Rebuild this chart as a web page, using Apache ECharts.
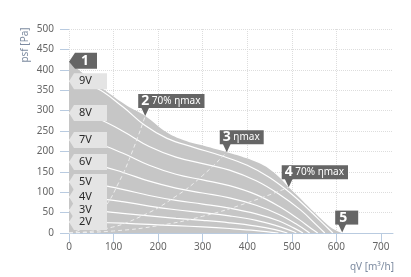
<!DOCTYPE html>
<html lang="de" style="height: 100%;margin: 0;">
<head>
    <meta charset="UTF-8">
    <title>chart</title>
</head>
<body style="height: 100%;margin: 0;background:#fff;">
<div id="chart" style="width: 411px;height: 277px;margin: 0;"></div>
<script src="https://cdn.jsdelivr.net/npm/echarts@6/dist/echarts.min.js"></script>
<script>
    // axis ticks
    var xTicks = [0, 100, 200, 300, 400, 500, 600, 700];
    var yTicks = [0, 50, 100, 150, 200, 250, 300, 350, 400, 450, 500];

    // max curve (grey area)
    var envelope = [[0, 420], [40, 384], [85, 346], [130, 312], [171, 287], [219, 247], [256, 228], [294, 216],
        [354, 198], [399, 183], [436, 166], [459, 149], [478, 130], [493, 112], [511, 93], [549, 52], [586, 15], [612, 0]];

    // control voltage curves
    var voltageNames = ['9V', '8V', '7V', '6V', '5V', '4V', '3V', '2V'];
    var curve9 = [[0, 372], [60, 356], [120, 310], [170, 264], [220, 232], [280, 210], [340, 190], [400, 166], [450, 136], [500, 95], [540, 55], [575, 18], [592, 0]];
    var curve8 = [[0, 294], [60, 282], [120, 250], [180, 212], [240, 186], [300, 170], [360, 154], [420, 128], [470, 96], [520, 56], [555, 20], [574, 0]];
    var curve7 = [[0, 228], [60, 220], [120, 196], [180, 166], [240, 144], [300, 130], [360, 116], [420, 94], [470, 66], [515, 34], [545, 10], [558, 0]];
    var curve6 = [[0, 174], [60, 167], [120, 149], [180, 127], [240, 110], [300, 98], [360, 86], [420, 68], [470, 46], [510, 22], [540, 0]];
    var curve5 = [[0, 125], [60, 120], [120, 107], [180, 92], [240, 80], [300, 71], [360, 61], [420, 47], [470, 30], [505, 12], [525, 0]];
    var curve4 = [[0, 88], [60, 85], [120, 77], [180, 66], [240, 57], [300, 50], [360, 42], [420, 31], [465, 18], [500, 5], [510, 0]];
    var curve3 = [[0, 56], [60, 54], [120, 48], [180, 42], [240, 36], [300, 31], [360, 25], [420, 17], [460, 9], [490, 0]];
    var curve2 = [[0, 27], [60, 26], [120, 24], [180, 21], [240, 18], [300, 15], [360, 11], [420, 6], [470, 0]];
    var curves = [curve9, curve8, curve7, curve6, curve5, curve4, curve3, curve2];

    // system curves (dashed)
    var sysLeft = [[0, 0], [40, 16], [80, 63], [110, 120], [140, 194], [171, 287]];
    var sysMax = [[0, 0], [80, 10], [160, 40], [240, 90], [300, 141], [354, 198]];
    var sysRight = [[0, 0], [100, 5], [200, 18], [300, 41], [400, 74], [493, 112]];

    // numbered points
    var markerPoints = [[0, 420], [171, 287], [354, 198], [493, 112], [613, 1]];
    var markerNums = ['1', '2', '3', '4', '5'];
    var markerTexts = ['', '70% ηmax', 'ηmax', '70% ηmax', ''];

    var myChart = echarts.init(document.getElementById('chart'), null, {renderer: 'canvas'});

    var axisBlue = '#b9cbe0';
    var series = [];

    series.push({
        type: 'line',
        data: envelope,
        smooth: 0.4,
        symbol: 'none',
        z: 1,
        lineStyle: {width: 0},
        areaStyle: {color: '#c6c6c6', opacity: 1}
    });

    for (var i = 0; i < curves.length; i++) {
        series.push({
            type: 'line',
            data: curves[i],
            smooth: 0.4,
            symbol: 'none',
            z: 2,
            lineStyle: {color: '#ffffff', width: 1.2}
        });
    }

    [sysLeft, sysMax, sysRight].forEach(function (d) {
        series.push({
            type: 'line',
            data: d,
            smooth: true,
            symbol: 'none',
            z: 2,
            lineStyle: {color: '#eeeeee', width: 1, type: [4, 3]}
        });
    });

    // voltage tags at the left
    series.push({
        type: 'custom',
        z: 3,
        data: curves.map(function (c) { return [0, c[0][1]]; }),
        renderItem: function (params, api) {
            var p = api.coord([api.value(0), api.value(1)]);
            var x = p[0], y = p[1];
            return {
                type: 'group',
                children: [{
                    type: 'polygon',
                    shape: {points: [[x, y], [x + 5, y - 8], [x + 38, y - 8], [x + 38, y + 8], [x + 5, y + 8]]},
                    style: {fill: '#e4e4e4'}
                }, {
                    type: 'text',
                    style: {
                        text: voltageNames[params.dataIndex],
                        x: x + 10, y: y,
                        verticalAlign: 'middle',
                        font: '11px "Noto Sans"',
                        fill: '#2a2a2a'
                    }
                }]
            };
        }
    });

    // numbered markers
    series.push({
        type: 'custom',
        z: 4,
        data: markerPoints,
        renderItem: function (params, api) {
            var idx = params.dataIndex;
            var p = api.coord([api.value(0), api.value(1)]);
            var x = p[0], y = p[1];
            if (idx === 0) {
                return {
                    type: 'group',
                    children: [{
                        type: 'polygon',
                        shape: {points: [[x, y], [x + 6, y - 9], [x + 28, y - 9], [x + 28, y + 7], [x + 6, y + 7]]},
                        style: {fill: '#656565'}
                    }, {
                        type: 'text',
                        style: {
                            text: markerNums[idx], x: x + 16, y: y - 1,
                            align: 'center', verticalAlign: 'middle',
                            font: 'bold 14px "Noto Sans"', fill: '#ffffff'
                        }
                    }]
                };
            }
            var txt = markerTexts[idx];
            return {
                type: 'group',
                children: [{
                    type: 'polygon',
                    shape: {points: [[x - 4, y - 8.5], [x + 4, y - 8.5], [x, y]]},
                    style: {fill: '#656565'}
                }, {
                    type: 'text',
                    style: {
                        text: '{n|' + markerNums[idx] + '}' + (txt ? '{t| ' + txt + '}' : ''),
                        x: x - 7, y: y - 8,
                        align: 'left', verticalAlign: 'bottom',
                        backgroundColor: '#656565',
                        padding: txt ? [0, 4, 0, 3] : [0, 11, 0, 4],
                        rich: {
                            n: {font: 'bold 14px "Noto Sans"', fill: '#ffffff', lineHeight: 14},
                            t: {font: '10px "Noto Sans"', fill: '#ffffff', lineHeight: 14}
                        }
                    }
                }]
            };
        }
    });

    var option = {
        animation: false,
        backgroundColor: '#ffffff',
        textStyle: {fontFamily: 'Noto Sans'},
        grid: {left: 69, right: 18, top: 29, bottom: 44},
        xAxis: {
            type: 'value',
            min: 0,
            max: 727,
            interval: 100,
            axisLine: {show: true, lineStyle: {color: axisBlue, width: 1}},
            axisTick: {show: true, length: 9, customValues: xTicks, lineStyle: {color: axisBlue}},
            axisLabel: {customValues: xTicks, margin: 9, fontSize: 10, color: '#666666'},
            splitLine: {show: true, showMaxLine: false, lineStyle: {color: '#dddddd', type: 'dotted'}}
        },
        yAxis: {
            type: 'value',
            min: 0,
            max: 500,
            interval: 50,
            axisLine: {show: false},
            axisTick: {show: true, length: 9, customValues: yTicks, lineStyle: {color: axisBlue}},
            axisLabel: {customValues: yTicks, margin: 15, fontSize: 10, color: '#666666'},
            splitLine: {show: true, lineStyle: {color: '#dddddd', type: 'dotted'}}
        },
        graphic: [{
            type: 'text',
            x: 25, y: 45,
            rotation: Math.PI / 2,
            style: {
                text: 'psf [Pa]', align: 'center', verticalAlign: 'middle',
                font: '10px "Noto Sans"', fill: '#7d8ba0'
            }
        }, {
            type: 'text',
            x: 394, y: 267,
            style: {
                text: 'qV [m³/h]', align: 'right', verticalAlign: 'middle',
                font: '10px "Noto Sans"', fill: '#7d8ba0'
            }
        }],
        series: series
    };

    myChart.setOption(option, true);
</script>
</body>
</html>
